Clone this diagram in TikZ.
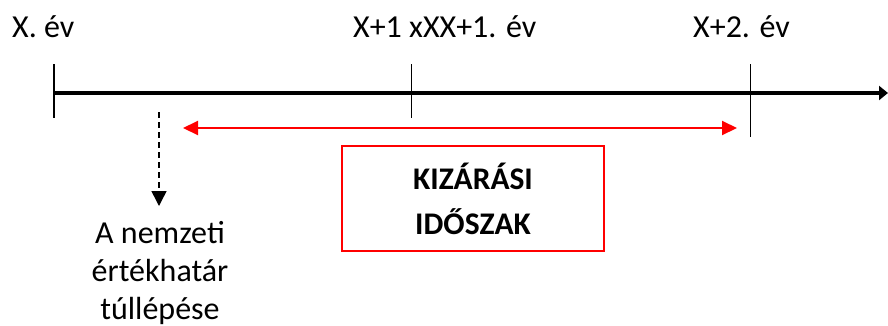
\documentclass[tikz,border=0pt]{standalone}
\usepackage{fontspec}
\setmainfont{Carlito}
\usetikzlibrary{arrows.meta}
\begin{document}
\begin{tikzpicture}[x=1pt,y=-1pt,
  lbl/.style={font=\fontsize{32}{38}\selectfont, inner sep=0pt},
  tickline/.style={line width=1.5pt},
  axisline/.style={line width=4pt, -{Triangle[length=9pt,width=14pt]}},
  redarrow/.style={red, line width=2pt, {Triangle[length=15pt,width=14pt]}-{Triangle[length=15pt,width=14pt]}},
  dasharrow/.style={line width=1.5pt, dash pattern=on 6pt off 4pt, -{Triangle[length=15pt,width=15pt]}},
  redbox/.style={draw=red, line width=1.5pt, minimum width=262pt, minimum height=105pt, inner sep=0pt,
    font=\bfseries\fontsize{31.5}{45}\selectfont, align=center}]
\useasboundingbox (0,0) rectangle (888,325);
% axis
\coordinate (a0) at (55,93);
\coordinate (a1) at (888,93);
\draw[axisline] (a0) -- (a1);
% ticks
\coordinate (t1a) at (54,64);  \coordinate (t1b) at (54,118);
\coordinate (t2a) at (411.5,64); \coordinate (t2b) at (411.5,118);
\coordinate (t3a) at (750.5,64); \coordinate (t3b) at (750.5,137);
\draw[tickline] (t1a) -- (t1b);
\draw[tickline] (t2a) -- (t2b);
\draw[tickline] (t3a) -- (t3b);
% labels
\node[lbl, anchor=base west] (l1) at (12,37) {X. év};
\node[lbl, anchor=base west] (l2) at (353,37) {X+1 xXX+1. év};
\node[lbl, anchor=base west] (l3) at (693,37) {X+2. év};
% red arrow
\coordinate (r0) at (183,128);
\coordinate (r1) at (737,128);
\draw[redarrow] (r0) -- (r1);
% note
\coordinate (d0) at (159,112);
\node[lbl, align=center, anchor=north] (note) at (160,221) {A nemzeti\\értékhatár\\túllépése};
\coordinate (d1) at (159,206);
\draw[dasharrow] (d0) -- (d1);
% box
\node[redbox] (box) at (473,198.5) {KIZÁRÁSI\\IDŐSZAK};
\end{tikzpicture}
\end{document}
